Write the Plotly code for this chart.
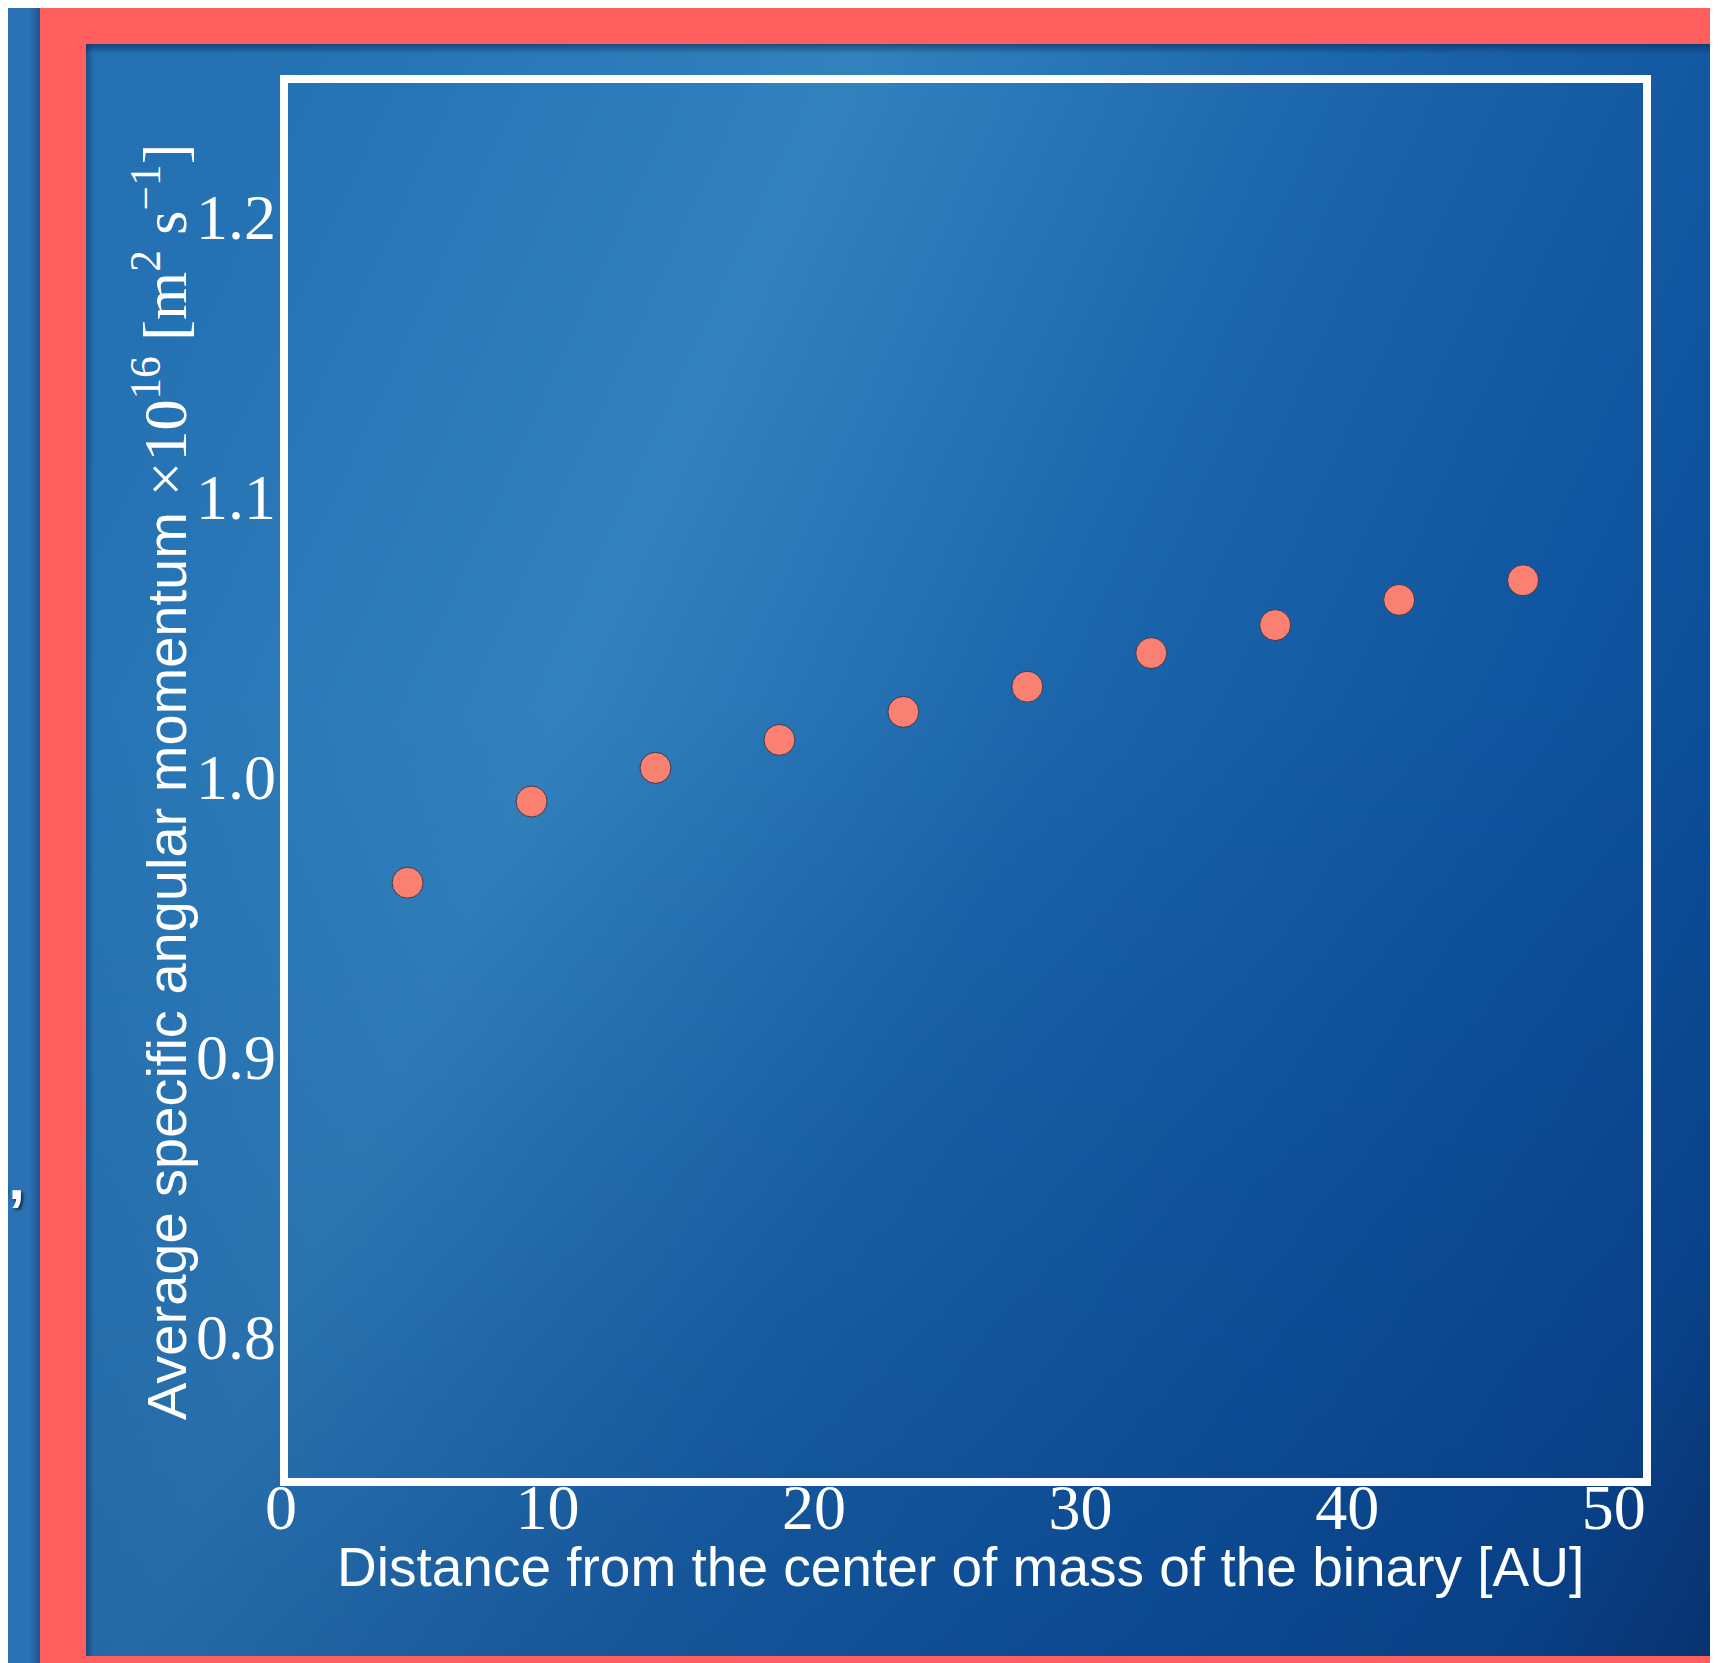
import base64
import plotly.graph_objects as go

# ---- data ----
distance_au = [4.75, 9.40, 14.05, 18.70, 23.35, 28.00, 32.65, 37.30, 41.95, 46.60]
ang_mom = [0.962, 0.991, 1.003, 1.013, 1.023, 1.032, 1.044, 1.054, 1.063, 1.070]
x_ticks = [0, 10, 20, 30, 40, 50]
y_ticks = [0.8, 0.9, 1.0, 1.1, 1.2]
x_title = "Distance from the center of mass of the binary [AU]"
y_title = ("Average specific angular momentum "
           "<span style='font-family:Liberation Serif;font-size:62px'>×10<sup>16</sup> "
           "[m<sup>2</sup> s<sup>−1</sup>]</span>")

W, H = 1718, 1663
OFF = 8  # page body margin
L, T = 281 - OFF, 79 - OFF
PW, PH = 1647 - 281, 1482 - 79
R, B = W - L - PW, H - T - PH


def px(fx):
    return (fx - OFF - L) / PW


def py(fy):
    return (T + PH - (fy - OFF)) / PH


# ---- slide background as an SVG image (page coordinates) ----
svg = f"""<svg xmlns='http://www.w3.org/2000/svg' width='{W}' height='{H}' viewBox='0 0 {W} {H}'>
<defs>
<linearGradient id='g1' gradientUnits='userSpaceOnUse' x1='0' y1='0' x2='2091' y2='957'>
<stop offset='0' stop-color='#2470b2'/>
<stop offset='0.12' stop-color='#2471b3'/>
<stop offset='0.35' stop-color='#3282be'/>
<stop offset='0.55' stop-color='#1b65ab'/>
<stop offset='0.75' stop-color='#0e539e'/>
<stop offset='0.9' stop-color='#0a468f'/>
<stop offset='1' stop-color='#0a2e68'/>
</linearGradient>
<linearGradient id='g2' gradientUnits='userSpaceOnUse' x1='0' y1='700' x2='0' y2='{H}'>
<stop offset='0' stop-color='#06306e' stop-opacity='0'/>
<stop offset='1' stop-color='#06306e' stop-opacity='0.3'/>
</linearGradient>
<linearGradient id='st' x1='0' y1='0' x2='0' y2='1'>
<stop offset='0' stop-color='#0a2550' stop-opacity='0.55'/>
<stop offset='1' stop-color='#0a2550' stop-opacity='0'/>
</linearGradient>
<linearGradient id='sl' x1='0' y1='0' x2='1' y2='0'>
<stop offset='0' stop-color='#0a2550' stop-opacity='0.45'/>
<stop offset='1' stop-color='#0a2550' stop-opacity='0'/>
</linearGradient>
<linearGradient id='sr' x1='0' y1='0' x2='1' y2='0'>
<stop offset='0' stop-color='#0a2550' stop-opacity='0'/>
<stop offset='1' stop-color='#0a2550' stop-opacity='0.4'/>
</linearGradient>
</defs>
<g transform='translate(-{OFF},-{OFF})'>
<rect x='0' y='0' width='{W+OFF}' height='{H+OFF}' fill='#2a72b4'/>
<rect x='30' y='0' width='10' height='{H+OFF}' fill='url(#sr)'/>
<rect x='40' y='0' width='{W}' height='{H+OFF}' fill='#ff5f5f'/>
<rect x='86' y='44' width='{W}' height='{1656-44}' fill='url(#g1)'/>
<rect x='86' y='44' width='{W}' height='{1656-44}' fill='url(#g2)'/>
<rect x='86' y='44' width='{W}' height='10' fill='url(#st)'/>
<rect x='86' y='44' width='8' height='{1656-44}' fill='url(#sl)'/>
</g>
</svg>"""
src = "data:image/svg+xml;base64," + base64.b64encode(svg.encode()).decode()

fig = go.Figure()
fig.add_trace(go.Scatter(
    x=distance_au, y=ang_mom, mode="markers",
    marker=dict(size=31, color="#fa8072", line=dict(color="#3a3a50", width=1)),
    showlegend=False, hoverinfo="x+y",
))

serif = "Liberation Serif, DejaVu Serif, serif"
sans = "Liberation Sans, Arial, sans-serif"

fig.update_layout(
    width=W, height=H,
    margin=dict(l=L, r=R, t=T, b=B, pad=0),
    paper_bgcolor="#2a72b4",
    plot_bgcolor="rgba(0,0,0,0)",
    images=[dict(source=src, xref="paper", yref="paper",
                 x=-L / PW, y=1 + T / PH, sizex=W / PW, sizey=H / PH,
                 xanchor="left", yanchor="top", sizing="stretch", layer="below")],
    xaxis=dict(range=[0, 51.25], tickvals=x_ticks, ticktext=[str(v) for v in x_ticks],
               showgrid=False, zeroline=False, showline=False, ticks="",
               ticklabelstandoff=-18,
               tickfont=dict(family=serif, size=64, color="white")),
    yaxis=dict(range=[0.748, 1.249], tickvals=y_ticks, ticktext=[f"{v:.1f}" for v in y_ticks],
               showgrid=False, zeroline=False, showline=False, ticks="",
               ticklabelstandoff=4,
               tickfont=dict(family=serif, size=64, color="white")),
    shapes=[dict(type="rect", xref="paper", yref="paper", x0=px(284), x1=1, y0=0, y1=1,
                 line=dict(color="white", width=8), fillcolor="rgba(0,0,0,0)", layer="above")],
    annotations=[
        dict(text=x_title, xref="paper", yref="paper", x=px(960), y=py(1567),
             xanchor="center", yanchor="middle", showarrow=False,
             font=dict(family=sans, size=55, color="white")),
        dict(text=y_title, xref="paper", yref="paper", x=px(160), y=py(782),
             xanchor="center", yanchor="middle", showarrow=False, textangle=-90,
             font=dict(family=sans, size=56, color="white")),
        dict(text="<b>s,</b>", xref="paper", yref="paper", x=px(27),
             y=py(1178), xanchor="right", yanchor="middle",
             showarrow=False, font=dict(family=sans, size=60, color="white",
                                        shadow="2px 2px 3px rgba(0,0,0,0.6)")),
    ],
)

fig.write_html("out.html")
